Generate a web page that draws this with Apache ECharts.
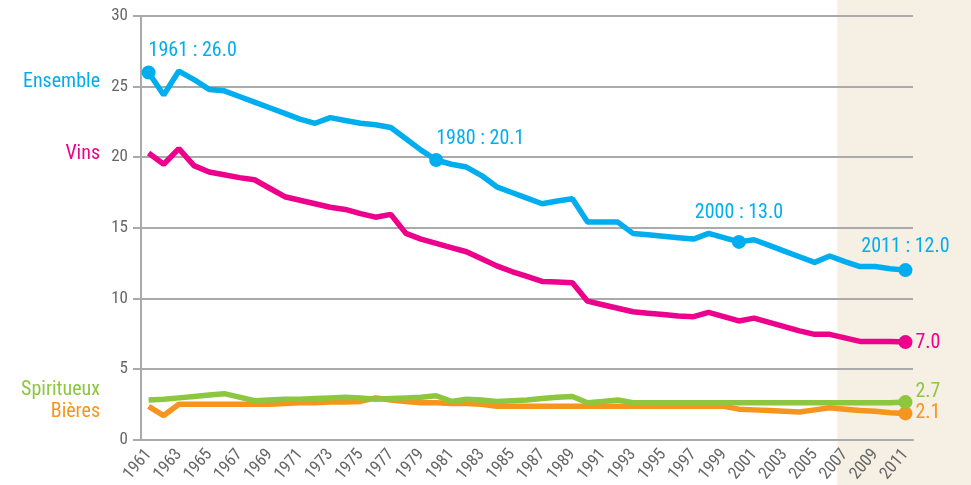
<!DOCTYPE html>
<html><head><meta charset="utf-8">
<script src="https://cdn.jsdelivr.net/npm/echarts@6/dist/echarts.min.js"></script>
<style>html,body{margin:0;padding:0;background:#fff}#c{width:971px;height:485px}</style>
</head><body><div id="c"></div>
<script>
const years = ['1961','1962','1963','1964','1965','1966','1967','1968','1969','1970',
'1971','1972','1973','1974','1975','1976','1977','1978','1979','1980',
'1981','1982','1983','1984','1985','1986','1987','1988','1989','1990',
'1991','1992','1993','1994','1995','1996','1997','1998','1999','2000',
'2001','2002','2003','2004','2005','2006','2007','2008','2009','2010','2011'];

const ensemble = [26.0,24.4,26.1,25.5,24.8,24.7,24.3,23.9,23.5,23.1,
22.7,22.4,22.8,22.6,22.4,22.3,22.1,21.3,20.5,19.8,
19.5,19.3,18.7,17.9,17.5,17.1,16.7,16.9,17.05,15.4,
15.4,15.4,14.6,14.5,14.4,14.3,14.2,14.6,14.3,14.0,
14.15,13.75,13.35,12.95,12.55,13.0,12.6,12.25,12.25,12.1,12.0];

const vins = [20.3,19.5,20.6,19.4,18.95,18.75,18.55,18.4,17.8,17.2,
16.95,16.7,16.45,16.3,16.0,15.75,15.95,14.6,14.2,13.9,
13.6,13.3,12.8,12.3,11.9,11.55,11.2,11.15,11.1,9.8,
9.55,9.3,9.05,8.95,8.85,8.75,8.7,9.0,8.7,8.4,
8.6,8.3,8.0,7.7,7.45,7.45,7.2,6.95,6.95,6.95,6.9];

const spiritueux = [2.8,2.85,2.95,3.05,3.15,3.25,3.0,2.75,2.8,2.85,
2.85,2.9,2.95,3.0,2.95,2.85,2.9,2.95,3.0,3.1,
2.7,2.85,2.8,2.7,2.75,2.8,2.9,3.0,3.05,2.6,
2.7,2.8,2.6,2.6,2.6,2.6,2.6,2.6,2.6,2.6,
2.6,2.6,2.6,2.6,2.6,2.6,2.6,2.6,2.6,2.6,2.65];

const bieres = [2.35,1.7,2.5,2.5,2.5,2.5,2.5,2.5,2.5,2.55,
2.6,2.6,2.65,2.65,2.7,2.95,2.8,2.7,2.6,2.6,
2.55,2.55,2.5,2.35,2.35,2.35,2.35,2.35,2.35,2.35,
2.35,2.35,2.35,2.35,2.35,2.35,2.35,2.35,2.35,2.15,
2.1,2.05,2.0,1.95,2.1,2.25,2.15,2.05,2.0,1.9,1.85];

const yTicks = [0,5,10,15,20,25,30];

const ensembleNotes = {'1961':'1961 : 26.0','1980':'1980 : 20.1','2000':'2000 : 13.0','2011':'2011 : 12.0'};
const vinsNote = {'2011':'7.0'};
const spiritNote = {'2011':'2.7'};
const bieresNote = {'2011':'2.1'};

const C_ENS = '#00AEEF', C_VIN = '#EC008C', C_SPI = '#8DC63F', C_BIE = '#F7941D';
const FONT = '"Roboto Condensed", "DejaVu Sans Condensed", "Liberation Sans", Roboto, sans-serif';

function build(values, notes, color, labelOpts) {
  return values.map((v, i) => {
    const y = years[i];
    if (notes[y] === undefined) return v;
    const lo = (typeof labelOpts === 'function') ? labelOpts(y) : labelOpts;
    return {
      value: v, symbol: 'circle', symbolSize: 14,
      itemStyle: {color: color},
      label: Object.assign({show: true, formatter: notes[y], color: color,
        fontFamily: FONT, fontSize: 20}, lo)
    };
  });
}

function lineSeries(name, values, notes, color, labelOpts) {
  return {
    name: name, type: 'line', data: build(values, notes, color, labelOpts),
    symbol: 'none', showSymbol: true, showAllSymbol: true,
    lineStyle: {color: color, width: 5.5},
    itemStyle: {color: color}, emphasis: {disabled: true}, silent: true,
    labelLayout: {hideOverlap: false}
  };
}

const chart = echarts.init(document.getElementById('c'));
chart.setOption({
  animation: false,
  backgroundColor: '#fff',
  grid: {left: 141, right: 58, top: 16, bottom: 45, containLabel: false},
  xAxis: {
    type: 'category', data: years, boundaryGap: true,
    axisLine: {lineStyle: {color: '#aaa', width: 2}},
    axisTick: {interval: 0, length: 7, lineStyle: {color: '#aaa', width: 2}},
    axisLabel: {interval: 1, rotate: 50, color: '#666', fontFamily: FONT, fontSize: 17, margin: 12}
  },
  yAxis: {
    type: 'value', min: 0, max: 30, interval: 5,
    axisLine: {show: true, lineStyle: {color: '#aaa', width: 2}},
    axisTick: {show: true, length: 8, lineStyle: {color: '#aaa', width: 2}},
    splitLine: {lineStyle: {color: '#aaa', width: 2}},
    axisLabel: {color: '#666', fontFamily: FONT, fontSize: 17, margin: 13,
      formatter: v => yTicks.includes(v) ? String(v) : ''}
  },
  series: [
    lineSeries('Bières', bieres, bieresNote, C_BIE, {position: [17, 7], align: 'left', verticalAlign: 'middle'}),
    lineSeries('Spiritueux', spiritueux, spiritNote, C_SPI, {position: [17, -3], align: 'left', verticalAlign: 'middle'}),
    lineSeries('Vins', vins, vinsNote, C_VIN, {position: [17, 8], align: 'left', verticalAlign: 'middle'}),
    lineSeries('Ensemble', ensemble, ensembleNotes, C_ENS, y => {
      if (y === '1961') return {position: 'top', align: 'left', distance: 4};
      if (y === '1980') return {position: 'top', align: 'left', distance: 4, offset: [6, 0]};
      if (y === '2000') return {position: 'top', distance: 12};
      return {position: 'top', distance: 6};
    })
  ]
});

const x07 = chart.convertToPixel({xAxisIndex: 0}, '2007');
const x08 = chart.convertToPixel({xAxisIndex: 0}, '2008');
const bandX = x07 - (x08 - x07) / 2;
const W = chart.getWidth(), H = chart.getHeight();
const nameStyle = (t, c, y) => ({type: 'text', right: W - 100, top: y - 12, z: 10,
  style: {text: t, fill: c, font: '20px ' + FONT, textAlign: 'right'}});
chart.setOption({
  graphic: [
    {type: 'rect', shape: {x: bandX, y: 0, width: W - bandX, height: H}, style: {fill: '#F6EFE3'}, z: -10, silent: true},
    nameStyle('Ensemble', C_ENS, 84),
    nameStyle('Vins', C_VIN, 156),
    nameStyle('Spiritueux', C_SPI, 392),
    nameStyle('Bières', C_BIE, 414)
  ]
});
</script></body></html>
